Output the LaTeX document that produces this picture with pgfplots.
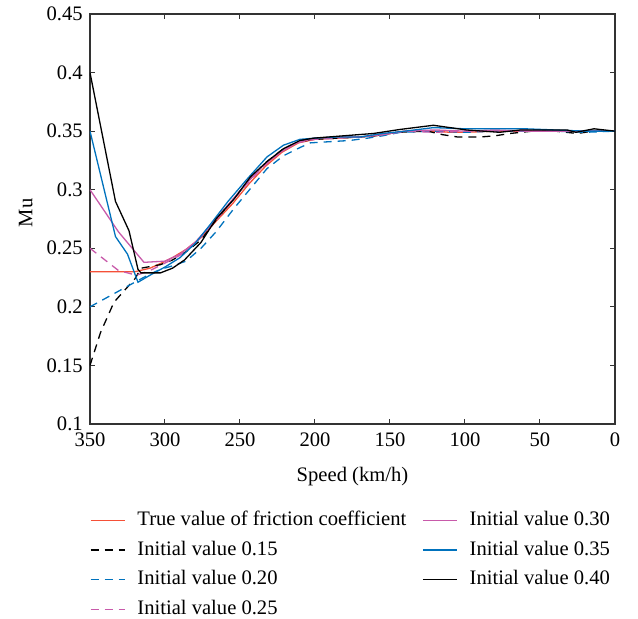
\documentclass[border=0pt]{standalone}
\usepackage{pgfplots}
\pgfplotsset{compat=1.18}
\usepackage{fontspec}
\setmainfont{Liberation Serif}
\definecolor{cred}{RGB}{245,80,55}
\definecolor{cmag}{RGB}{200,90,170}
\definecolor{cblue}{RGB}{0,114,189}
\begin{document}
\fontsize{10.3}{12}\selectfont
\begin{tikzpicture}
\begin{axis}[
  scale only axis,
  width=262.5pt, height=205pt,
  at={(0,0)}, anchor=south west,
  x dir=reverse,
  xmin=0, xmax=350, ymin=0.1, ymax=0.45,
  xtick={0,50,...,350},
  ytick={0.1,0.15,0.2,0.25,0.3,0.35,0.4,0.45},
  yticklabel style={/pgf/number format/fixed,/pgf/number format/precision=2},
  /pgf/number format/assume math mode=true,
  tick align=inside,
  major tick length=2.5pt,
  axis line style={black!80, line width=0.6pt},
  every tick/.style={black!80, line width=0.5pt},
  tick label style={font=\fontsize{10.3}{12}\selectfont},
  xticklabel style={yshift=-1pt},
  label style={font=\fontsize{10.3}{12}\selectfont},
  xlabel={Speed (km/h)},
  xlabel style={yshift=-3pt},
  ylabel={Mu},
  ylabel style={xshift=3pt},
  legend columns=2,
  legend cell align=left,
  legend style={
    draw=none, fill=none,
    at={(0,-0.212)}, anchor=north west,
    inner sep=0pt, outer sep=0pt,
    row sep=5.3pt,
    font=\fontsize{10.3}{12}\selectfont,
    nodes={inner ysep=0pt, inner xsep=3pt, text height=7.3pt, text depth=2.2pt},
    /tikz/every odd column/.append style={column sep=3pt},
    /tikz/every even column/.append style={column sep=5pt},
  },
  every axis plot/.append style={line width=0.65pt},
]
% True value
\addplot[cred, forget plot] coordinates {
(350,0.230) (320,0.230) (310,0.233) (303,0.237) (295,0.242) (286,0.249) (276,0.259) (266,0.273) (255,0.288) (244,0.305) (233,0.320) (222,0.332) (211,0.340) (200,0.343) (185,0.344) (170,0.345) (160,0.346) (150,0.348) (140,0.350) (120,0.350) (110,0.349) (100,0.349) (80,0.350) (60,0.350) (40,0.350) (20,0.350) (0,0.350)};
% 0.15
\addplot[black, dash pattern=on 4pt off 3pt, forget plot] coordinates {
(350,0.150) (343,0.178) (334,0.204) (320,0.224) (316,0.233) (303,0.236) (295,0.240) (286,0.247) (276,0.257) (266,0.274) (255,0.291) (244,0.308) (233,0.323) (222,0.334) (211,0.341) (200,0.343) (185,0.344) (170,0.345) (160,0.346) (145,0.349) (125,0.350) (115,0.347) (105,0.345) (90,0.345) (80,0.346) (70,0.348) (55,0.350) (40,0.350) (25,0.348) (15,0.350) (0,0.350)};
% 0.20
\addplot[cblue, dash pattern=on 4pt off 3pt, forget plot] coordinates {
(350,0.200) (318,0.2225) (310,0.228) (303,0.232) (295,0.235) (286,0.239) (276,0.250) (266,0.264) (254,0.284) (243,0.301) (232,0.318) (221,0.329) (210,0.336) (203,0.340) (190,0.341) (177,0.342) (165,0.344) (155,0.346) (143,0.349) (120,0.350) (100,0.349) (80,0.350) (60,0.350) (40,0.350) (20,0.349) (0,0.350)};
% 0.25
\addplot[cmag, dash pattern=on 4pt off 3pt, forget plot] coordinates {
(350,0.250) (331,0.231) (319,0.227) (310,0.231) (299,0.238) (290,0.244) (280,0.254) (270,0.268) (258,0.286) (246,0.304) (235,0.319) (223,0.332) (212,0.340) (200,0.343) (185,0.344) (170,0.345) (155,0.347) (140,0.350) (120,0.349) (100,0.350) (80,0.350) (60,0.351) (40,0.350) (20,0.350) (0,0.350)};
% 0.30
\addplot[cmag, forget plot] coordinates {
(350,0.300) (331,0.264) (314,0.238) (300,0.239) (290,0.245) (280,0.255) (270,0.269) (258,0.287) (246,0.305) (235,0.320) (223,0.332) (212,0.340) (200,0.344) (185,0.345) (170,0.345) (155,0.347) (140,0.350) (120,0.351) (100,0.350) (80,0.351) (60,0.350) (40,0.350) (20,0.350) (0,0.350)};
% 0.35
\addplot[cblue, forget plot] coordinates {
(350,0.350) (333,0.260) (325,0.245) (318,0.221) (310,0.227) (300,0.234) (290,0.242) (280,0.254) (270,0.270) (258,0.290) (246,0.308) (232,0.328) (221,0.338) (210,0.343) (200,0.344) (185,0.345) (170,0.345) (155,0.348) (140,0.350) (121,0.353) (100,0.352) (80,0.352) (60,0.352) (40,0.351) (20,0.350) (0,0.350)};
% 0.40
\addplot[black, forget plot] coordinates {
(350,0.400) (333,0.290) (324,0.265) (318,0.232) (316,0.229) (303,0.229) (295,0.233) (287,0.240) (276,0.255) (266,0.275) (254,0.292) (243,0.311) (232,0.324) (221,0.335) (210,0.342) (201,0.344) (181,0.346) (161,0.348) (143,0.3515) (121,0.355) (99,0.351) (77,0.349) (63,0.351) (32,0.351) (26,0.349) (14,0.352) (0,0.350)};
% legend in column order
\addlegendimage{cred, line width=0.65pt}
\addlegendentry{True value of friction coefficient}
\addlegendimage{cmag, line width=0.65pt}
\addlegendentry{Initial value 0.30}
\addlegendimage{black, dash pattern=on 4pt off 3pt, line width=0.65pt}
\addlegendentry{Initial value 0.15}
\addlegendimage{cblue, line width=0.65pt}
\addlegendentry{Initial value 0.35}
\addlegendimage{cblue, dash pattern=on 4pt off 3pt, line width=0.65pt}
\addlegendentry{Initial value 0.20}
\addlegendimage{black, line width=0.65pt}
\addlegendentry{Initial value 0.40}
\addlegendimage{cmag, dash pattern=on 4pt off 3pt, line width=0.65pt}
\addlegendentry{Initial value 0.25}
\end{axis}
\path (-45pt,-96.5pt) rectangle (274pt,212pt);
\end{tikzpicture}
\end{document}
